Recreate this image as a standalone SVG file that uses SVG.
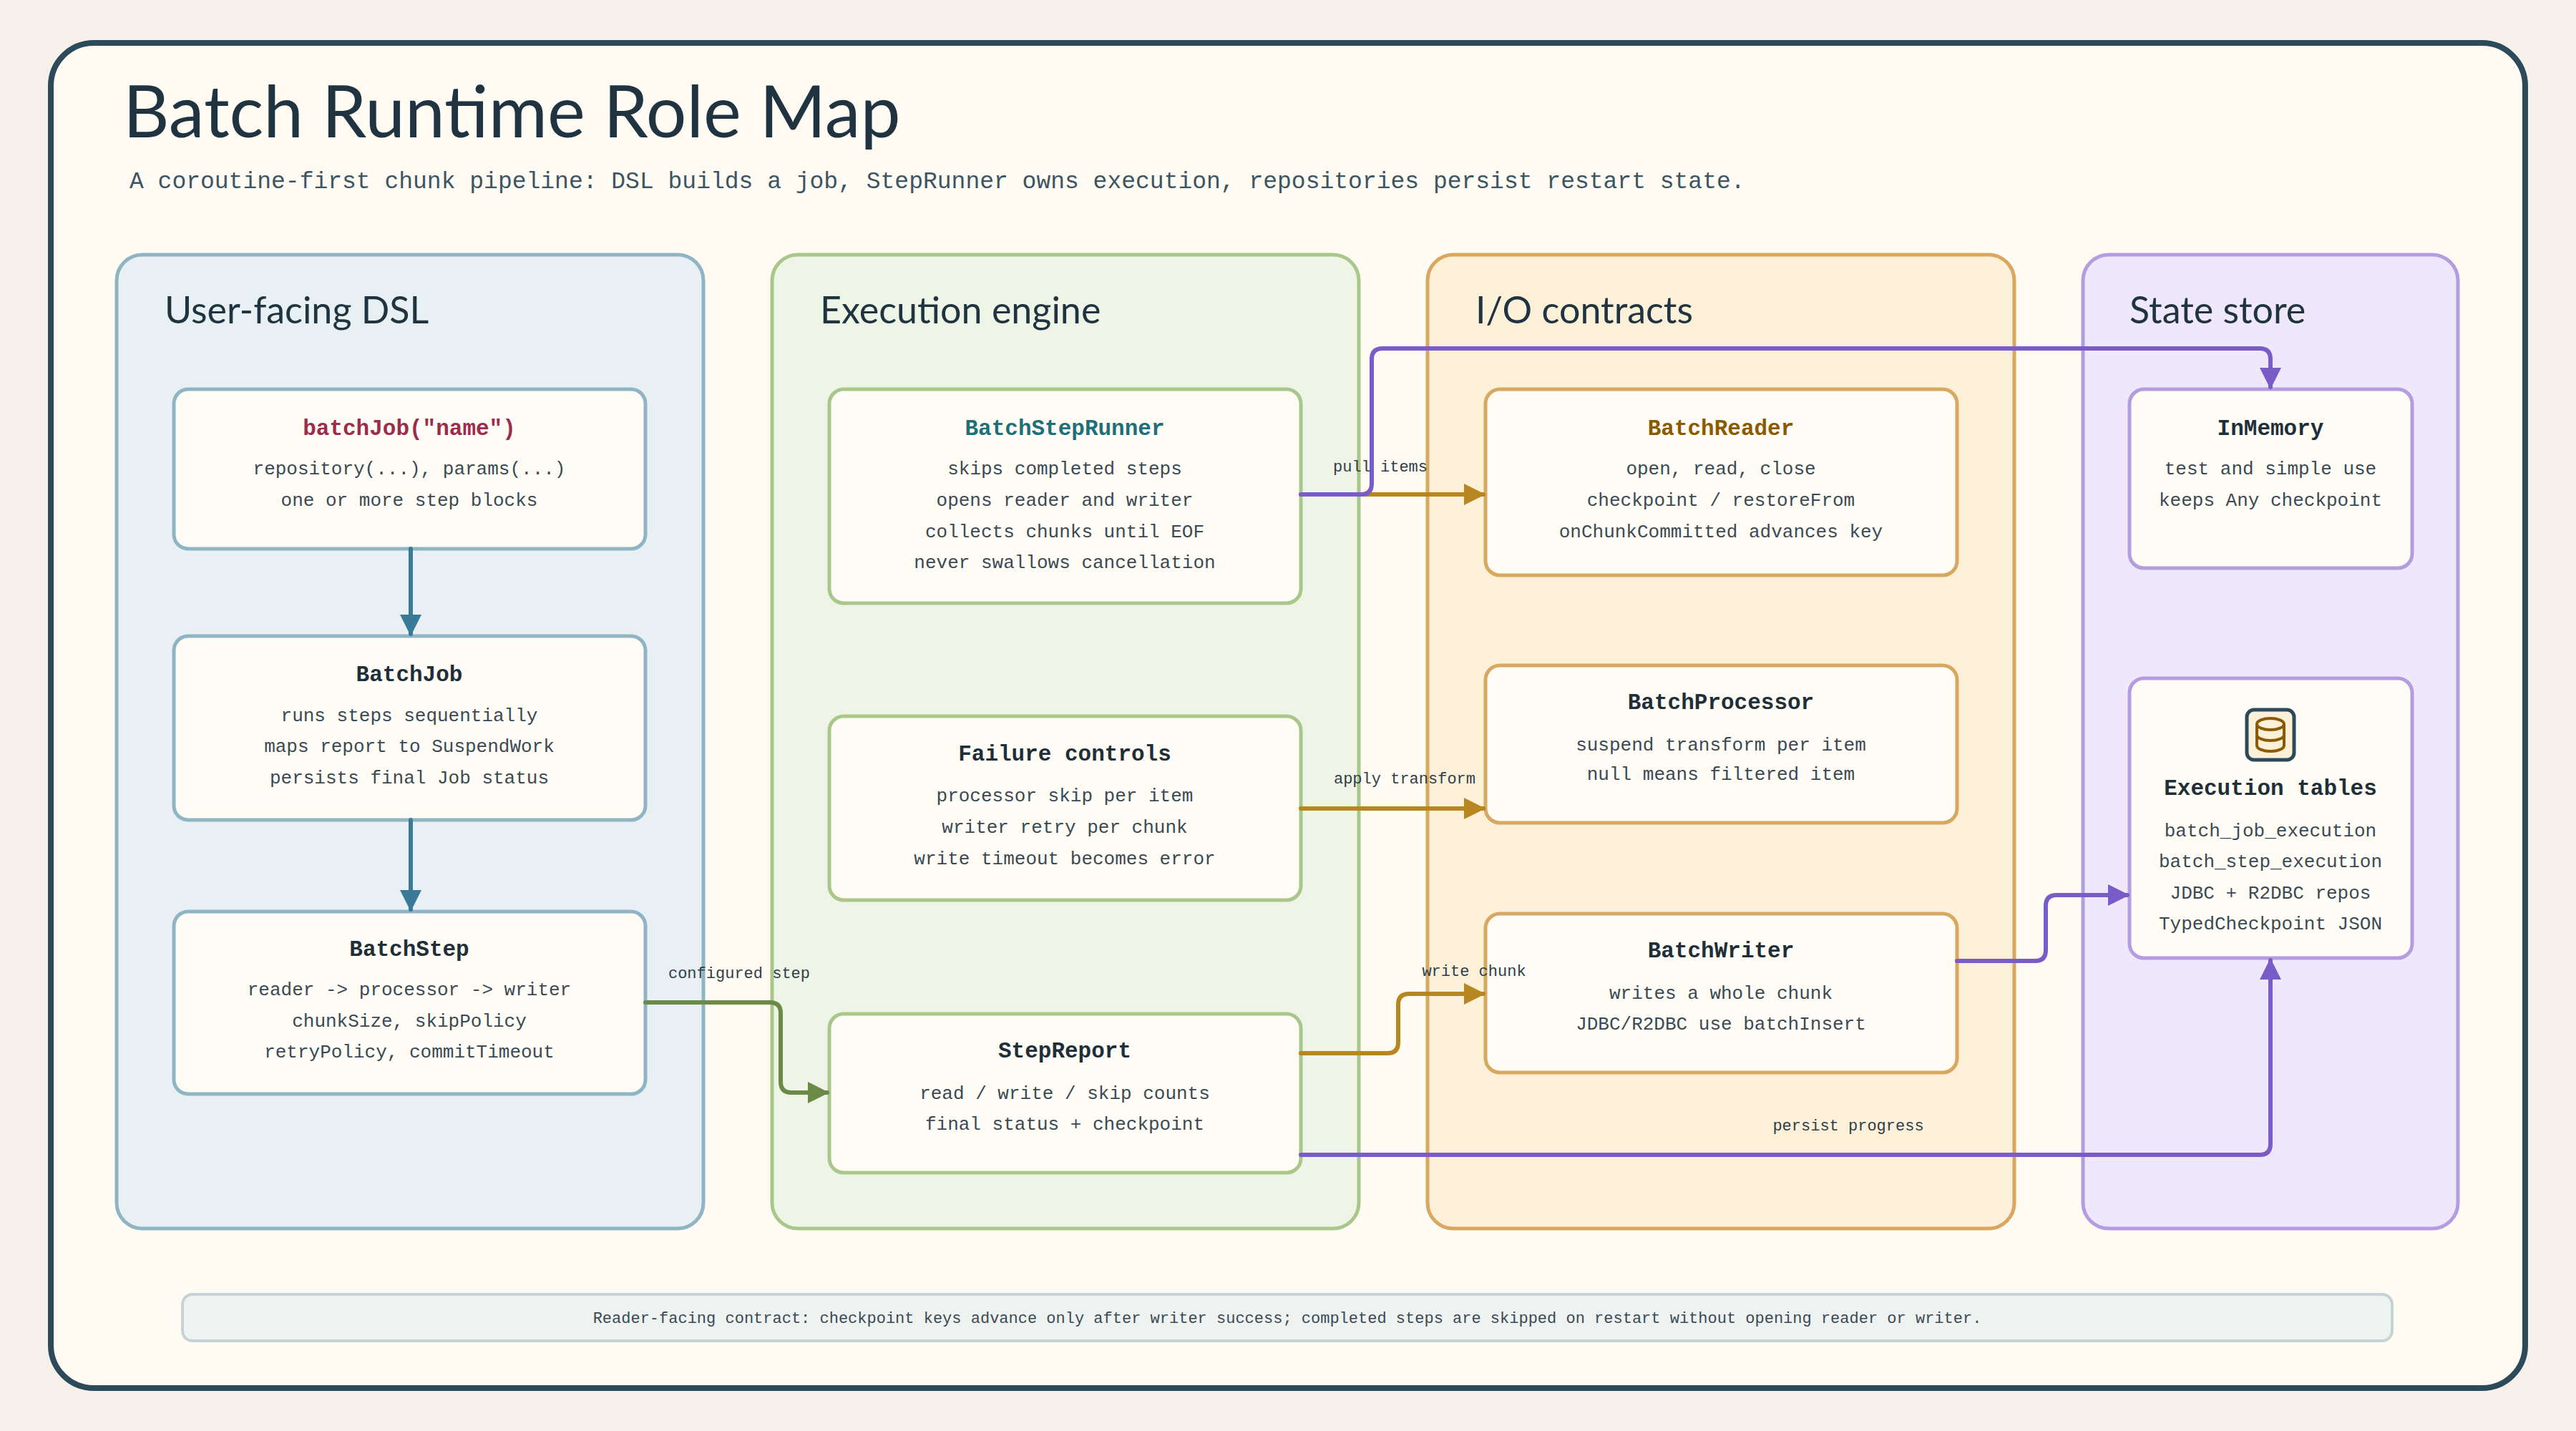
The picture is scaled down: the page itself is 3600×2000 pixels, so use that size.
<svg xmlns="http://www.w3.org/2000/svg" width="3600" height="2000" viewBox="0 0 3600 2000">
<style>
.hd{font-family:"Lato","Open Sans",sans-serif;fill:#1f3440}
.sub{font-family:"Liberation Mono",monospace;font-size:33px;fill:#3b5563}
.col{stroke-width:5}
.node{fill:#fffcf5;stroke-width:5}
.nt{font-family:"Liberation Mono","DejaVu Sans Mono",monospace;font-size:31px;font-weight:bold;fill:#1f2f3a;text-anchor:middle}
.nb{font-family:"Liberation Mono","DejaVu Sans Mono",monospace;font-size:26px;fill:#3a4a55;text-anchor:middle}
.lb{font-family:"Liberation Mono","DejaVu Sans Mono",monospace;font-size:22px;fill:#2f3f4a;text-anchor:middle}
.c{fill:none;stroke-width:6;stroke-linejoin:round;stroke-linecap:round}
</style>
<defs>
<marker id="aB" viewBox="0 0 10 10" refX="9" refY="5" markerWidth="5" markerHeight="5" orient="auto" markerUnits="strokeWidth"><path d="M0,0L10,5L0,10z" fill="#3a7a99"/></marker>
<marker id="aG" viewBox="0 0 10 10" refX="9" refY="5" markerWidth="5" markerHeight="5" orient="auto" markerUnits="strokeWidth"><path d="M0,0L10,5L0,10z" fill="#6a8a45"/></marker>
<marker id="aO" viewBox="0 0 10 10" refX="9" refY="5" markerWidth="5" markerHeight="5" orient="auto" markerUnits="strokeWidth"><path d="M0,0L10,5L0,10z" fill="#b8861f"/></marker>
<marker id="aP" viewBox="0 0 10 10" refX="9" refY="5" markerWidth="5" markerHeight="5" orient="auto" markerUnits="strokeWidth"><path d="M0,0L10,5L0,10z" fill="#7a5cc9"/></marker>
</defs>
<rect width="3600" height="2000" fill="#f6f0ea"/>
<rect x="71" y="60" width="3458" height="1880" rx="60" fill="#fffaf2" stroke="#2c4a5a" stroke-width="8"/>
<text class="hd" x="172" y="192" font-size="100">Batch Runtime Role Map</text>
<text class="sub" x="181" y="263">A coroutine-first chunk pipeline: DSL builds a job, StepRunner owns execution, repositories persist restart state.</text>

<g id="col-dsl"><rect class="col" x="163" y="356" width="820" height="1361" rx="36" fill="#e8f0f3" stroke="#8fb5c5"/><text class="hd" x="230" y="452" font-size="52">User-facing DSL</text></g>
<g id="col-engine"><rect class="col" x="1079" y="356" width="820" height="1361" rx="36" fill="#eef4e6" stroke="#a9c78a"/><text class="hd" x="1146" y="452" font-size="52">Execution engine</text></g>
<g id="col-io"><rect class="col" x="1995" y="356" width="820" height="1361" rx="36" fill="#fdf0d9" stroke="#d8a860"/><text class="hd" x="2062" y="452" font-size="52">I/O contracts</text></g>
<g id="col-state"><rect class="col" x="2911" y="356" width="524" height="1361" rx="36" fill="#efe7fb" stroke="#b39ddf"/><text class="hd" x="2976" y="452" font-size="52">State store</text></g>

<g id="batchJobDsl"><rect class="node" x="243" y="544" width="659" height="223" rx="20" stroke="#8fb5c5"/>
<text class="nt" x="572" y="608" style="fill:#9b2c4a">batchJob("name")</text>
<text class="nb" x="572" y="663">repository(...), params(...)</text><text class="nb" x="572" y="707">one or more step blocks</text></g>
<g id="BatchJob"><rect class="node" x="243" y="889" width="659" height="257" rx="20" stroke="#8fb5c5"/>
<text class="nt" x="572" y="952">BatchJob</text>
<text class="nb" x="572" y="1008">runs steps sequentially</text><text class="nb" x="572" y="1051">maps report to SuspendWork</text><text class="nb" x="572" y="1095">persists final Job status</text></g>
<g id="BatchStep"><rect class="node" x="243" y="1274" width="659" height="255" rx="20" stroke="#8fb5c5"/>
<text class="nt" x="572" y="1336">BatchStep</text>
<text class="nb" x="572" y="1391">reader -&gt; processor -&gt; writer</text><text class="nb" x="572" y="1435">chunkSize, skipPolicy</text><text class="nb" x="572" y="1478">retryPolicy, commitTimeout</text></g>

<g id="BatchStepRunner"><rect class="node" x="1159" y="544" width="659" height="299" rx="20" stroke="#a9c78a"/>
<text class="nt" x="1488" y="608" style="fill:#1f6f78">BatchStepRunner</text>
<text class="nb" x="1488" y="663">skips completed steps</text><text class="nb" x="1488" y="707">opens reader and writer</text><text class="nb" x="1488" y="751">collects chunks until EOF</text><text class="nb" x="1488" y="794">never swallows cancellation</text></g>
<g id="FailureControls"><rect class="node" x="1159" y="1001" width="659" height="257" rx="20" stroke="#a9c78a"/>
<text class="nt" x="1488" y="1063">Failure controls</text>
<text class="nb" x="1488" y="1120">processor skip per item</text><text class="nb" x="1488" y="1164">writer retry per chunk</text><text class="nb" x="1488" y="1208">write timeout becomes error</text></g>
<g id="StepReport"><rect class="node" x="1159" y="1417" width="659" height="222" rx="20" stroke="#a9c78a"/>
<text class="nt" x="1488" y="1478">StepReport</text>
<text class="nb" x="1488" y="1536">read / write / skip counts</text><text class="nb" x="1488" y="1579">final status + checkpoint</text></g>

<g id="BatchReader"><rect class="node" x="2076" y="544" width="659" height="260" rx="20" stroke="#d8a860"/>
<text class="nt" x="2405" y="608" style="fill:#8a5a00">BatchReader</text>
<text class="nb" x="2405" y="663">open, read, close</text><text class="nb" x="2405" y="707">checkpoint / restoreFrom</text><text class="nb" x="2405" y="751">onChunkCommitted advances key</text></g>
<g id="BatchProcessor"><rect class="node" x="2076" y="930" width="659" height="220" rx="20" stroke="#d8a860"/>
<text class="nt" x="2405" y="991">BatchProcessor</text>
<text class="nb" x="2405" y="1049">suspend transform per item</text><text class="nb" x="2405" y="1090">null means filtered item</text></g>
<g id="BatchWriter"><rect class="node" x="2076" y="1277" width="659" height="222" rx="20" stroke="#d8a860"/>
<text class="nt" x="2405" y="1338">BatchWriter</text>
<text class="nb" x="2405" y="1396">writes a whole chunk</text><text class="nb" x="2405" y="1439">JDBC/R2DBC use batchInsert</text></g>

<g id="InMemory"><rect class="node" x="2976" y="544" width="395" height="250" rx="20" stroke="#b39ddf"/>
<text class="nt" x="3173" y="608">InMemory</text>
<text class="nb" x="3173" y="663">test and simple use</text><text class="nb" x="3173" y="707">keeps Any checkpoint</text></g>
<g id="ExecutionTables"><rect class="node" x="2976" y="948" width="395" height="391" rx="20" stroke="#b39ddf"/>
<rect x="3140" y="992" width="66" height="70" rx="10" fill="#fdf0d9" stroke="#2c4a5a" stroke-width="5"/>
<ellipse cx="3173" cy="1012" rx="19" ry="8" fill="none" stroke="#8a5a00" stroke-width="4"/>
<path d="M3154,1012V1042A19,8 0 0 0 3192,1042V1012M3154,1027A19,8 0 0 0 3192,1027" fill="none" stroke="#8a5a00" stroke-width="4"/>
<text class="nt" x="3173" y="1111">Execution tables</text>
<text class="nb" x="3173" y="1169">batch_job_execution</text><text class="nb" x="3173" y="1212">batch_step_execution</text><text class="nb" x="3173" y="1256">JDBC + R2DBC repos</text><text class="nb" x="3173" y="1299">TypedCheckpoint JSON</text></g>

<g id="footer"><rect x="255" y="1809" width="3088" height="65" rx="14" fill="#eef2f0" stroke="#c5d3d6" stroke-width="4"/>
<text class="nb" x="1799" y="1849" style="font-size:22px">Reader-facing contract: checkpoint keys advance only after writer success; completed steps are skipped on restart without opening reader or writer.</text></g>

<g id="connectors">
<path class="c" stroke="#3a7a99" marker-end="url(#aB)" d="M574,767V886"/>
<path class="c" stroke="#3a7a99" marker-end="url(#aB)" d="M574,1146V1271"/>
<path class="c" stroke="#6a8a45" marker-end="url(#aG)" d="M902,1401H1076Q1091,1401 1091,1416V1512Q1091,1527 1106,1527H1156"/>
<path class="c" stroke="#b8861f" marker-end="url(#aO)" d="M1818,691H2073"/>
<path class="c" stroke="#7a5cc9" marker-end="url(#aP)" d="M1818,691H1902Q1917,691 1917,676V502Q1917,487 1932,487H3158Q3173,487 3173,502V541"/>
<path class="c" stroke="#b8861f" marker-end="url(#aO)" d="M1818,1130H2073"/>
<path class="c" stroke="#b8861f" marker-end="url(#aO)" d="M1818,1472H1939Q1954,1472 1954,1457V1404Q1954,1389 1969,1389H2073"/>
<path class="c" stroke="#7a5cc9" marker-end="url(#aP)" d="M1818,1614H3158Q3173,1614 3173,1599V1342"/>
<path class="c" stroke="#7a5cc9" marker-end="url(#aP)" d="M2735,1343H2844Q2859,1343 2859,1328V1266Q2859,1251 2874,1251H2973"/>
<text class="lb" x="1033" y="1367">configured step</text>
<text class="lb" x="1929" y="659">pull items</text>
<text class="lb" x="1963" y="1095">apply transform</text>
<text class="lb" x="2060" y="1364">write chunk</text>
<text class="lb" x="2583" y="1580">persist progress</text>
</g>
</svg>
